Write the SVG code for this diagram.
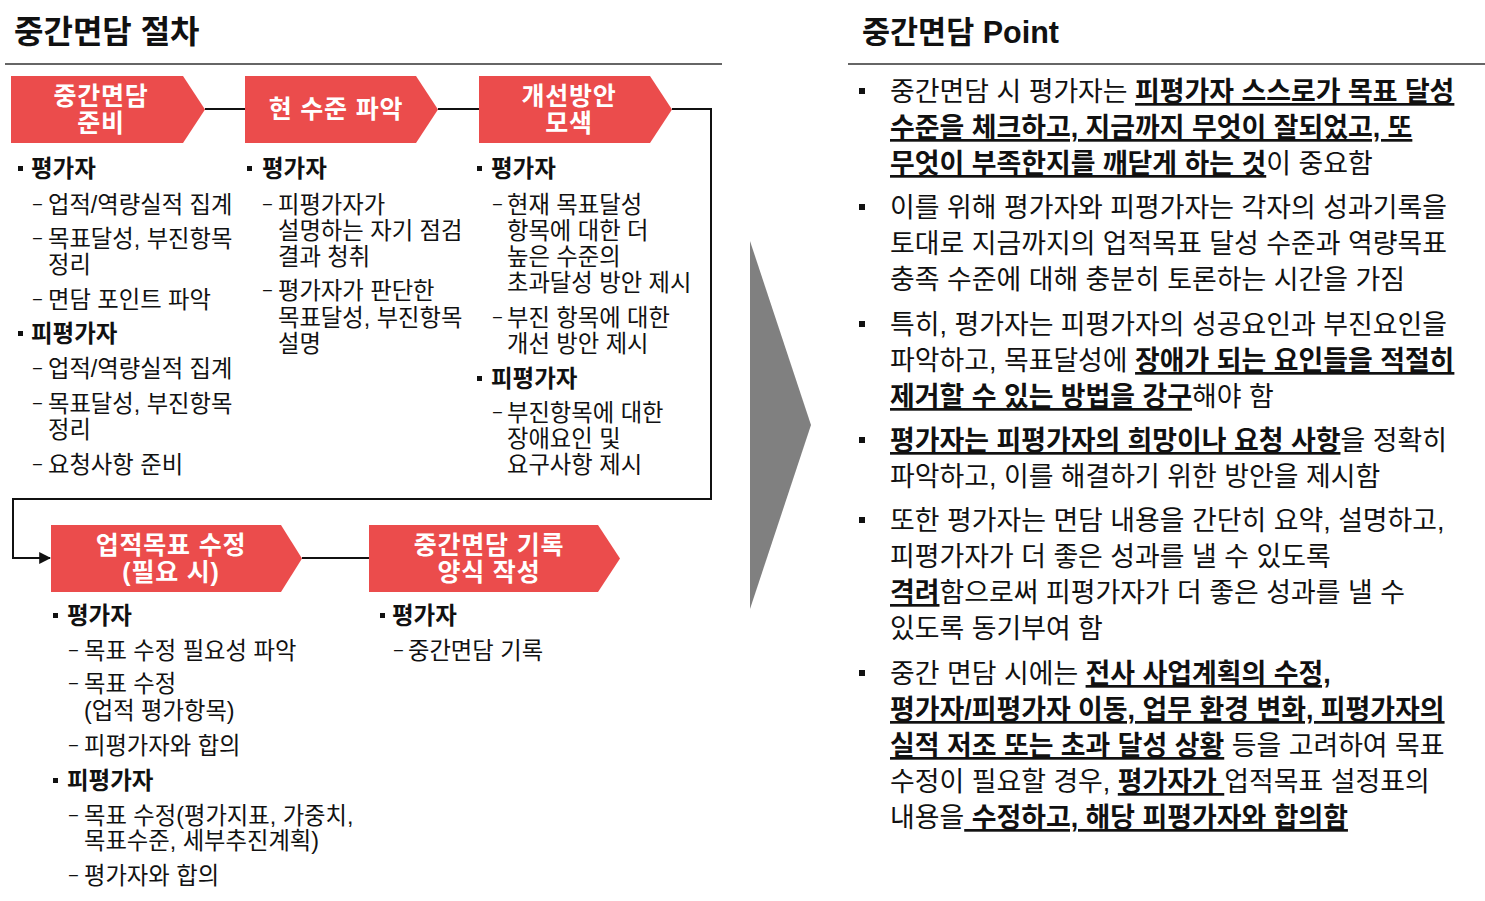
<svg xmlns="http://www.w3.org/2000/svg" width="1485" height="901" viewBox="0 0 1485 901">
<style>
text{font-family:'Liberation Sans','Noto Sans CJK KR',sans-serif;fill:#111}
.title{font-size:32px;font-weight:bold}
.box{fill:#EB4C4C}
.bt{font-size:25px;font-weight:bold;fill:#fff;text-anchor:middle;letter-spacing:0.8px}
.h{font-size:23.5px;font-weight:bold}
.t{font-size:23.3px}
.d{font-size:16px}
.r{font-size:26.9px}
.b{font-weight:bold;text-decoration:underline}
.bul{fill:#111}
.conn{fill:none;stroke:#111;stroke-width:2}
</style>
<defs>
<marker id="arr" viewBox="0 0 10 10" refX="9" refY="5" markerWidth="6" markerHeight="6" orient="auto" markerUnits="strokeWidth">
<path d="M0,0 L10,5 L0,10 Z" fill="#111"/>
</marker>
</defs>
<rect width="1485" height="901" fill="#fff"/>

<g id="left-header">
<text class="title" x="14" y="43">중간면담 절차</text>
<line x1="5" y1="64" x2="722" y2="64" stroke="#666" stroke-width="2"/>
</g>
<g id="right-header">
<text class="title" x="862" y="43" style="font-size:30.5px">중간면담 Point</text>
<line x1="848" y1="64" x2="1485" y2="64" stroke="#666" stroke-width="2"/>
</g>

<g id="connectors">
<line class="conn" x1="205" y1="109" x2="245" y2="109"/>
<line class="conn" x1="438" y1="109" x2="479" y2="109"/>
<polyline class="conn" points="672,109 711,109 711,499 13,499 13,558 50,558" marker-end="url(#arr)"/>
<line class="conn" x1="302" y1="558" x2="369" y2="558"/>
</g>

<g id="node-prep">
<path class="box" d="M11,76 H183 L205,109.5 L183,143 H11 Z"/>
<text class="bt" x="101" y="105">중간면담</text>
<text class="bt" x="101" y="132">준비</text>
</g>
<g id="node-status">
<path class="box" d="M245,76 H416 L438,109.5 L416,143 H245 Z"/>
<text class="bt" x="336" y="118">현 수준 파악</text>
</g>
<g id="node-improve">
<path class="box" d="M479,76 H650 L672,109.5 L650,143 H479 Z"/>
<text class="bt" x="569" y="105">개선방안</text>
<text class="bt" x="569" y="132">모색</text>
</g>
<g id="node-revise">
<path class="box" d="M51,525 H281 L302,558.5 L281,592 H51 Z"/>
<text class="bt" x="171" y="554">업적목표 수정</text>
<text class="bt" x="171" y="581">(필요 시)</text>
</g>
<g id="node-record">
<path class="box" d="M369,525 H598 L620,558.5 L598,592 H369 Z"/>
<text class="bt" x="489" y="554">중간면담 기록</text>
<text class="bt" x="489" y="581">양식 작성</text>
</g>

<g id="col-prep">
<rect class="bul" x="18" y="166" width="5" height="5"/>
<text class="h" x="31" y="177">평가자</text>
<text class="t"><tspan class="d" x="33" y="209">–</tspan><tspan x="48" y="213">업적/역량실적 집계</tspan></text>
<text class="t"><tspan class="d" x="33" y="243">–</tspan><tspan x="48" y="247">목표달성, 부진항목</tspan></text>
<text class="t" x="48" y="273">정리</text>
<text class="t"><tspan class="d" x="33" y="304">–</tspan><tspan x="48" y="308">면담 포인트 파악</tspan></text>
<rect class="bul" x="18" y="331" width="5" height="5"/>
<text class="h" x="31" y="342">피평가자</text>
<text class="t"><tspan class="d" x="33" y="373">–</tspan><tspan x="48" y="377">업적/역량실적 집계</tspan></text>
<text class="t"><tspan class="d" x="33" y="408">–</tspan><tspan x="48" y="412">목표달성, 부진항목</tspan></text>
<text class="t" x="48" y="438">정리</text>
<text class="t"><tspan class="d" x="33" y="469">–</tspan><tspan x="48" y="473">요청사항 준비</tspan></text>
</g>

<g id="col-status">
<rect class="bul" x="247" y="166" width="5" height="5"/>
<text class="h" x="262" y="177">평가자</text>
<text class="t"><tspan class="d" x="263" y="209">–</tspan><tspan x="278" y="213">피평가자가</tspan></text>
<text class="t" x="278" y="239">설명하는 자기 점검</text>
<text class="t" x="278" y="265">결과 청취</text>
<text class="t"><tspan class="d" x="263" y="295">–</tspan><tspan x="278" y="299">평가자가 판단한</tspan></text>
<text class="t" x="278" y="326">목표달성, 부진항목</text>
<text class="t" x="278" y="352">설명</text>
</g>

<g id="col-improve">
<rect class="bul" x="477" y="166" width="5" height="5"/>
<text class="h" x="491" y="177">평가자</text>
<text class="t"><tspan class="d" x="493" y="209">–</tspan><tspan x="507" y="213">현재 목표달성</tspan></text>
<text class="t" x="507" y="239">항목에 대한 더</text>
<text class="t" x="507" y="265">높은 수준의</text>
<text class="t" x="507" y="291">초과달성 방안 제시</text>
<text class="t"><tspan class="d" x="493" y="322">–</tspan><tspan x="507" y="326">부진 항목에 대한</tspan></text>
<text class="t" x="507" y="352">개선 방안 제시</text>
<rect class="bul" x="477" y="376" width="5" height="5"/>
<text class="h" x="491" y="387">피평가자</text>
<text class="t"><tspan class="d" x="493" y="417">–</tspan><tspan x="507" y="421">부진항목에 대한</tspan></text>
<text class="t" x="507" y="447">장애요인 및</text>
<text class="t" x="507" y="473">요구사항 제시</text>
</g>

<g id="col-revise">
<rect class="bul" x="53" y="613" width="5" height="5"/>
<text class="h" x="67" y="624">평가자</text>
<text class="t"><tspan class="d" x="69" y="655">–</tspan><tspan x="84" y="659">목표 수정 필요성 파악</tspan></text>
<text class="t"><tspan class="d" x="69" y="688">–</tspan><tspan x="84" y="692">목표 수정</tspan></text>
<text class="t" x="84" y="719">(업적 평가항목)</text>
<text class="t"><tspan class="d" x="69" y="750">–</tspan><tspan x="84" y="754">피평가자와 합의</tspan></text>
<rect class="bul" x="53" y="778" width="5" height="5"/>
<text class="h" x="67" y="789">피평가자</text>
<text class="t"><tspan class="d" x="69" y="820">–</tspan><tspan x="84" y="824">목표 수정(평가지표, 가중치,</tspan></text>
<text class="t" x="84" y="849">목표수준, 세부추진계획)</text>
<text class="t"><tspan class="d" x="69" y="880">–</tspan><tspan x="84" y="884">평가자와 합의</tspan></text>
</g>

<g id="col-record">
<rect class="bul" x="380" y="613" width="5" height="5"/>
<text class="h" x="392" y="624">평가자</text>
<text class="t"><tspan class="d" x="394" y="655">–</tspan><tspan x="408" y="659">중간면담 기록</tspan></text>
</g>

<g id="big-arrow">
<polygon points="750,241 811,425 750,609" fill="#808080"/>
</g>

<g id="points">
<rect class="bul" x="859" y="88" width="6" height="6"/>
<text class="r" x="890" y="101">중간면담 시 평가자는 <tspan class="b"> 피평가자 스스로가 목표 달성</tspan></text>
<text class="r" x="890" y="137"><tspan class="b">수준을 체크하고, 지금까지 무엇이 잘되었고, 또</tspan></text>
<text class="r" x="890" y="173"><tspan class="b">무엇이 부족한지를 깨닫게 하는 것</tspan>이 중요함</text>

<rect class="bul" x="859" y="204" width="6" height="6"/>
<text class="r" x="890" y="217">이를 위해 평가자와 피평가자는 각자의 성과기록을</text>
<text class="r" x="890" y="253">토대로 지금까지의 업적목표 달성 수준과 역량목표</text>
<text class="r" x="890" y="289">충족 수준에 대해 충분히 토론하는 시간을 가짐</text>

<rect class="bul" x="859" y="321" width="6" height="6"/>
<text class="r" x="890" y="334">특히, 평가자는 피평가자의 성공요인과 부진요인을</text>
<text class="r" x="890" y="370">파악하고, 목표달성에 <tspan class="b">장애가 되는 요인들을 적절히</tspan></text>
<text class="r" x="890" y="406"><tspan class="b">제거할 수 있는 방법을 강구</tspan>해야 함</text>

<rect class="bul" x="859" y="437" width="6" height="6"/>
<text class="r" x="890" y="450"><tspan class="b">평가자는 피평가자의 희망이나 요청 사항</tspan>을 정확히</text>
<text class="r" x="890" y="486">파악하고, 이를 해결하기 위한 방안을 제시함</text>

<rect class="bul" x="859" y="517" width="6" height="6"/>
<text class="r" x="890" y="530">또한 평가자는 면담 내용을 간단히 요약, 설명하고,</text>
<text class="r" x="890" y="566">피평가자가 더 좋은 성과를 낼 수 있도록</text>
<text class="r" x="890" y="602"><tspan class="b">격려</tspan>함으로써 피평가자가 더 좋은 성과를 낼 수</text>
<text class="r" x="890" y="638">있도록 동기부여 함</text>

<rect class="bul" x="859" y="670" width="6" height="6"/>
<text class="r" x="890" y="683">중간 면담 시에는 <tspan class="b">전사 사업계획의 수정,</tspan></text>
<text class="r" x="890" y="719"><tspan class="b">평가자/피평가자 이동, 업무 환경 변화, 피평가자의</tspan></text>
<text class="r" x="890" y="755"><tspan class="b">실적 저조 또는 초과 달성 상황</tspan> 등을 고려하여 목표</text>
<text class="r" x="890" y="791">수정이 필요할 경우, <tspan class="b">평가자가  </tspan>업적목표 설정표의</text>
<text class="r" x="890" y="827">내용을<tspan class="b"> 수정하고, 해당 피평가자와 합의함</tspan></text>
</g>
</svg>
